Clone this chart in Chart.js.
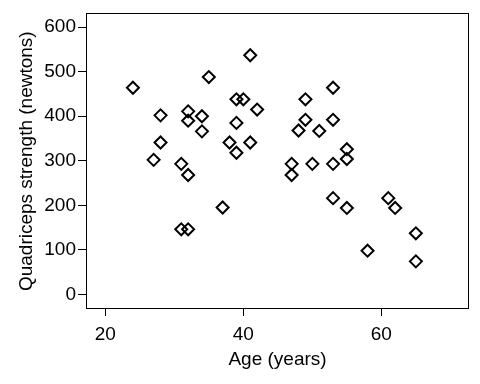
<!DOCTYPE html>
<html>
<head>
<meta charset="utf-8">
<script src="https://cdn.jsdelivr.net/npm/chart.js@4.4.1/dist/chart.umd.min.js"></script>
<style>
html,body{margin:0;padding:0;background:#fff;}
#wrap{width:480px;height:384px;}
</style>
</head>
<body>
<div id="wrap"><canvas id="c" width="480" height="384"></canvas></div>
<script>
const ages = [24,28,28,27,31,32,32,32,31,32,34,34,35,37,38,39,40,39,39,41,41,42,
              53,49,49,53,48,51,55,55,47,47,50,53,53,55,61,62,65,58,65];
const strength = [464,402,341,302,293,411,390,268,146,146,400,366,488,195,341,438,438,385,318,537,341,415,
                  464,438,392,392,368,367,326,304,293,268,293,293,216,194,216,194,137,98,74];
const xTicks = [20,40,60];
const yTicks = [0,100,200,300,400,500,600];
const xLabel = 'Age (years)';
const yLabel = 'Quadriceps strength (newtons)';

const points = ages.map((a,i)=>({x:a,y:strength[i]}));

const frame = {
  id:'frame',
  afterDatasetsDraw(chart){
    const {ctx, chartArea:a} = chart;
    ctx.save();
    ctx.strokeStyle = '#000';
    ctx.lineWidth = 1;
    ctx.strokeRect(Math.round(a.left)+0.5, Math.round(a.top)+0.5, Math.round(a.right-a.left)-1, Math.round(a.bottom-a.top)-1);
    ctx.restore();
  }
};

new Chart(document.getElementById('c'), {
  type:'scatter',
  data:{datasets:[{
    data:points,
    pointStyle:'rectRot',
    pointRadius:6,
    pointHoverRadius:6,
    pointBorderWidth:2,
    pointBorderColor:'#000',
    pointBackgroundColor:'rgba(0,0,0,0)'
  }]},
  options:{
    responsive:false,
    animation:false,
    events:[],
    layout:{padding:{top:10,right:11,left:0,bottom:0}},
    plugins:{legend:{display:false},tooltip:{enabled:false}},
    scales:{
      x:{
        type:'linear',min:17.2,max:72.7,
        afterBuildTicks(s){s.ticks = xTicks.map(v=>({value:v}));},
        afterFit(s){s.height = 75;},
        grid:{drawOnChartArea:false,drawTicks:true,tickLength:7,color:'#000'},
        border:{display:false},
        ticks:{color:'#000',font:{family:'Liberation Sans, Arial',size:19},padding:7,maxRotation:0},
        title:{display:true,text:xLabel,color:'#000',font:{family:'Liberation Sans, Arial',size:19},padding:{top:0,bottom:13}}
      },
      y:{
        type:'linear',min:-33,max:631,
        afterBuildTicks(s){s.ticks = yTicks.map(v=>({value:v}));},
        afterFit(s){s.width = 86;},
        grid:{drawOnChartArea:false,drawTicks:true,tickLength:8,color:'#000'},
        border:{display:false},
        ticks:{color:'#000',font:{family:'Liberation Sans, Arial',size:19},padding:2},
        title:{display:true,text:yLabel,color:'#000',font:{family:'Liberation Sans, Arial',size:19},padding:{top:15,bottom:0}}
      }
    }
  },
  plugins:[frame]
});
</script>
</body>
</html>
